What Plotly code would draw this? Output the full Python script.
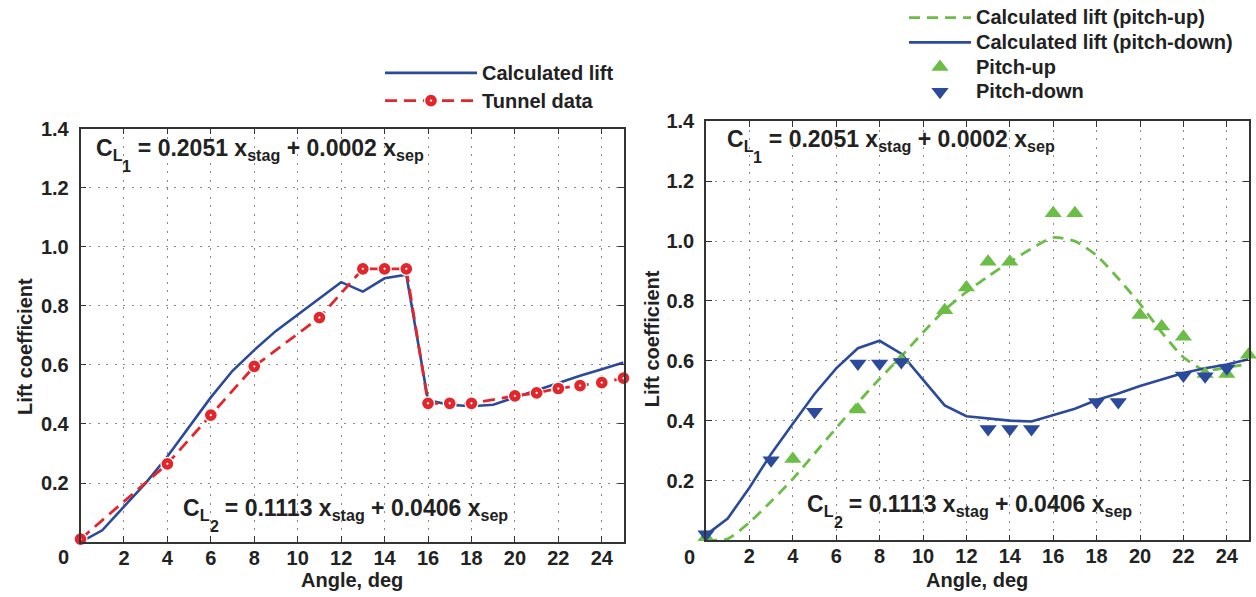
import plotly.graph_objects as go

# ---------------- data ----------------
# Left panel
calc_x = list(range(0, 26))
calc_y = [0.0, 0.04, 0.12, 0.2, 0.29, 0.39, 0.49, 0.58, 0.65, 0.715, 0.77, 0.825, 0.88,
          0.848, 0.893, 0.905, 0.48, 0.465, 0.46, 0.465, 0.49, 0.515, 0.54, 0.563, 0.585, 0.608]
tunnel_x = [0, 4, 6, 8, 11, 13, 14, 15, 16, 17, 18, 20, 21, 22, 23, 24, 25]
tunnel_y = [0.01, 0.265, 0.43, 0.595, 0.76, 0.925, 0.925, 0.925, 0.47, 0.47, 0.47,
            0.495, 0.505, 0.52, 0.53, 0.54, 0.555]

# Right panel
up_calc_x = list(range(0, 26))
up_calc_y = [0.0, 0.005, 0.06, 0.13, 0.205, 0.29, 0.375, 0.46, 0.54, 0.615, 0.695, 0.77, 0.83,
             0.882, 0.93, 0.975, 1.012, 1.0, 0.952, 0.875, 0.79, 0.695, 0.612, 0.568, 0.578, 0.59]
down_calc_x = list(range(0, 26))
down_calc_y = [0.018, 0.073, 0.176, 0.289, 0.39, 0.489, 0.575, 0.642, 0.667, 0.624, 0.537, 0.451,
               0.415, 0.408, 0.40, 0.397, 0.418, 0.44, 0.469, 0.491, 0.516, 0.537, 0.559, 0.575,
               0.588, 0.605]
pu_x = [0, 4, 7, 9, 11, 12, 13, 14, 16, 17, 20, 21, 22, 23, 24, 25]
pu_y = [0.01, 0.272, 0.437, 0.602, 0.769, 0.845, 0.931, 0.931, 1.093, 1.093, 0.753, 0.715,
        0.68, 0.556, 0.556, 0.62]
pd_x = [0, 3, 5, 7, 8, 9, 13, 14, 15, 18, 19, 22, 23, 24]
pd_y = [0.02, 0.268, 0.43, 0.591, 0.591, 0.596, 0.372, 0.372, 0.372, 0.462, 0.462, 0.551,
        0.548, 0.575]

x_ticks = [2, 4, 6, 8, 10, 12, 14, 16, 18, 20, 22, 24]
y_ticks = [0.2, 0.4, 0.6, 0.8, 1.0, 1.2, 1.4]
y_ticktext = ["0.2", "0.4", "0.6", "0.8", "1.0", "1.2", "1.4"]

# equation texts (the L-subscript index is drawn separately so it can sit lower)
eq1_main = ("C<sub>L<span style='opacity:0'>1</span></sub> = 0.2051 x<sub>stag</sub>"
            " + 0.0002 x<sub>sep</sub>")
eq2_main = ("C<sub>L<span style='opacity:0'>2</span></sub> = 0.1113 x<sub>stag</sub>"
            " + 0.0406 x<sub>sep</sub>")
eq1_index = "1"
eq2_index = "2"

# ---------------- style ----------------
BLUE = "#2b4a9b"
RED = "#e3262b"
GREEN = "#6cbd45"
FONT = "Liberation Sans"
W, H = 1256, 597


def lg(name):
    return "<span style='font-size:20px'>" + name + "</span>"


fig = go.Figure()

fig.add_trace(go.Scatter(x=calc_x, y=calc_y, mode="lines", name=lg("Calculated lift"),
                         line=dict(color=BLUE, width=2.6), xaxis="x", yaxis="y",
                         legend="legend", cliponaxis=False))
fig.add_trace(go.Scatter(x=tunnel_x, y=tunnel_y, mode="lines+markers", name=lg("Tunnel data"),
                         line=dict(color=RED, width=2.8, dash="12px,7px"),
                         marker=dict(symbol="circle-dot", size=13, color=RED,
                                     line=dict(color="white", width=1.3)),
                         xaxis="x", yaxis="y", legend="legend", cliponaxis=False))

fig.add_trace(go.Scatter(x=up_calc_x, y=up_calc_y, mode="lines",
                         name=lg("Calculated lift (pitch-up)"),
                         line=dict(color=GREEN, width=2.8, dash="11px,7px", shape="spline",
                                   smoothing=0.6),
                         xaxis="x2", yaxis="y2", legend="legend2", cliponaxis=False))
fig.add_trace(go.Scatter(x=down_calc_x, y=down_calc_y, mode="lines",
                         name=lg("Calculated lift (pitch-down)"),
                         line=dict(color=BLUE, width=2.6),
                         xaxis="x2", yaxis="y2", legend="legend2", cliponaxis=False))
fig.add_trace(go.Scatter(x=pu_x, y=pu_y, mode="markers", name=lg("Pitch-up"),
                         marker=dict(symbol="triangle-up", size=15, color=GREEN),
                         xaxis="x2", yaxis="y2", legend="legend2", cliponaxis=False))
fig.add_trace(go.Scatter(x=pd_x, y=pd_y, mode="markers", name=lg("Pitch-down"),
                         marker=dict(symbol="triangle-down", size=15, color=BLUE),
                         xaxis="x2", yaxis="y2", legend="legend2", cliponaxis=False))

axis_common = dict(
    showline=True, linecolor="#333", linewidth=1.5, mirror="ticks",
    ticks="inside", ticklen=6, tickcolor="#333", tickwidth=1.3,
    showgrid=True, gridcolor="#8a8a8a", gridwidth=1.3, griddash="2px,6.5px",
    zeroline=False, tickfont=dict(family=FONT, size=20, color="#222", weight="bold"),
)

fig.update_layout(
    width=W, height=H, margin=dict(l=0, r=0, t=0, b=0),
    paper_bgcolor="white", plot_bgcolor="white",
    font=dict(family=FONT, color="#222"),
    xaxis=dict(domain=[80.5 / W, 623.5 / W], range=[0, 25], tickvals=x_ticks,
               ticklabelstandoff=-3, **axis_common),
    yaxis=dict(domain=[1 - 540.8 / H, 1 - 117.3 / H], range=[0, 1.4], tickvals=y_ticks,
               ticktext=y_ticktext, ticklabelstandoff=6, **axis_common),
    xaxis2=dict(domain=[706 / W, 1248.5 / W], range=[0, 25], tickvals=x_ticks,
                anchor="y2", ticklabelstandoff=-3, **axis_common),
    yaxis2=dict(domain=[1 - 539 / H, 1 - 110 / H], range=[0, 1.4], tickvals=y_ticks,
                ticktext=y_ticktext, anchor="x2", ticklabelstandoff=6, **axis_common),
    legend=dict(x=380 / W, y=1 - 41 / H, xanchor="left", yanchor="top",
                bgcolor="rgba(0,0,0,0)", itemwidth=92, tracegroupgap=0,
                font=dict(family=FONT, size=19, color="#222", weight="bold")),
    legend2=dict(x=904 / W, y=1 + 14 / H, xanchor="left", yanchor="top",
                 bgcolor="rgba(0,0,0,0)", itemwidth=62, tracegroupgap=0,
                 font=dict(family=FONT, size=16.7, color="#222", weight="bold")),
    showlegend=True,
)

title_font = dict(family=FONT, size=20, color="#222", weight="bold")
eq_font = dict(family=FONT, size=23, color="#222", weight="bold")
idx_font = dict(family=FONT, size=16, color="#222", weight="bold")
IDX_DX = 26.4   # px from start of equation to its L index
IDX_DY = -17    # px offset of the index below the main text


def equation(main, index, xref, yref, x, y):
    return [
        dict(text=main, xref=xref, yref=yref, x=x, y=y, showarrow=False, font=eq_font,
             xanchor="left", yanchor="middle"),
        dict(text=index, xref=xref, yref=yref, x=x, y=y, xshift=IDX_DX, yshift=IDX_DY,
             showarrow=False, font=idx_font, xanchor="left", yanchor="middle"),
    ]


annotations = [
    # origin "0" labels
    dict(text="0", xref="x", yref="paper", x=0, y=1 - 556 / H, xshift=-17, showarrow=False,
         font=title_font, xanchor="center", yanchor="middle"),
    dict(text="0", xref="x2", yref="paper", x=0, y=1 - 556 / H, xshift=-17, showarrow=False,
         font=title_font, xanchor="center", yanchor="middle"),
    # axis titles
    dict(text="Angle, deg", xref="x domain", yref="paper", x=0.5, y=1 - 580 / H,
         showarrow=False, font=title_font, xanchor="center", yanchor="middle"),
    dict(text="Angle, deg", xref="x2 domain", yref="paper", x=0.5, y=1 - 580 / H,
         showarrow=False, font=title_font, xanchor="center", yanchor="middle"),
    dict(text="Lift coefficient", xref="paper", yref="paper", x=25 / W, y=1 - 341 / H,
         textangle=-90, showarrow=False, font=title_font, xanchor="center", yanchor="middle"),
    dict(text="Lift coefficient", xref="paper", yref="paper", x=652 / W, y=1 - 333 / H,
         textangle=-90, showarrow=False, font=title_font, xanchor="center", yanchor="middle"),
]
annotations += equation(eq1_main, eq1_index, "x", "y", 0.6, 1.33)
annotations += equation(eq2_main, eq2_index, "x", "y", 4.64, 0.11)
annotations += equation(eq1_main, eq1_index, "x2", "y2", 0.87, 1.335)
annotations += equation(eq2_main, eq2_index, "x2", "y2", 4.58, 0.118)
fig.update_layout(annotations=annotations)

fig.write_html("out.html")
